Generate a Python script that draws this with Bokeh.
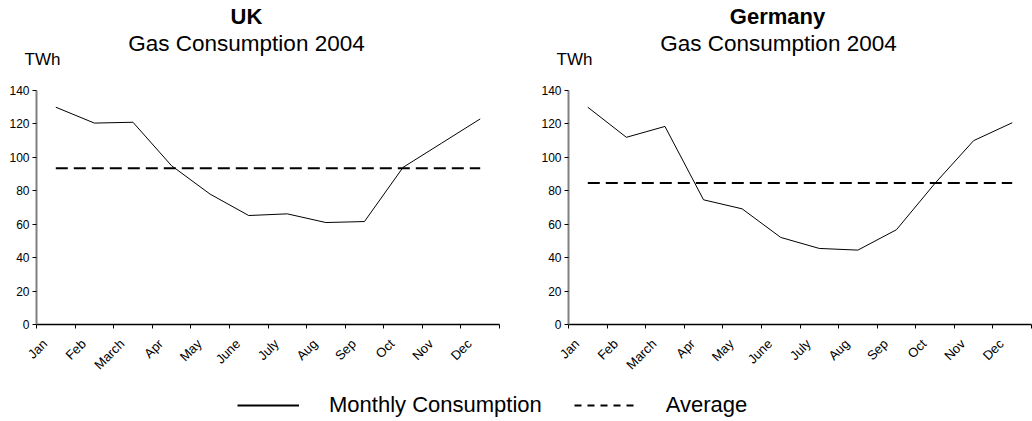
import math
from bokeh.plotting import figure
from bokeh.models import (Range1d, FixedTicker, CustomJSTickFormatter, Label,
                          Legend, LegendItem)
from bokeh.layouts import column, row
from bokeh.embed import file_html
from bokeh.resources import INLINE

# ---------------- data ----------------
months = ["Jan", "Feb", "March", "Apr", "May", "June", "July", "Aug", "Sep",
          "Oct", "Nov", "Dec"]
uk_values = [130, 120.5, 121, 95, 78, 65.2, 66.2, 61, 61.6, 94, 108.5, 123]
uk_average = 93.5
de_values = [130, 112, 118.5, 74.6, 69.2, 52.1, 45.5, 44.5, 56.7, 84.5, 110, 120.7]
de_average = 84.6
y_ticks = [0, 20, 40, 60, 80, 100, 120, 140]
countries = ["UK", "Germany"]
subtitle = "Gas Consumption 2004"
unit_label = "TWh"
series_names = ["Monthly Consumption", "Average"]

FONT = "Liberation Sans"
NAN = float("nan")


def strip(width, height):
    s = figure(width=width, height=height, x_axis_type=None, y_axis_type=None,
               x_range=Range1d(0, 1), y_range=Range1d(0, 1),
               toolbar_location=None, output_backend="svg", min_border=0)
    s.outline_line_color = None
    s.xgrid.visible = False
    s.ygrid.visible = False
    return s


def make_panel(values, avg, width, b_left, b_right):
    p = figure(width=width, height=298,
               x_range=Range1d(0, len(months)), y_range=Range1d(y_ticks[0], y_ticks[-1]),
               toolbar_location=None, output_backend="svg",
               min_border_left=b_left, min_border_right=b_right,
               min_border_top=8, min_border_bottom=56)
    p.outline_line_color = None
    p.xgrid.visible = False
    p.ygrid.visible = False

    x = [i + 0.5 for i in range(len(months))]
    p.line(x, values, line_color="black", line_width=1)
    p.line(x, [avg] * len(x), line_color="black", line_width=2, line_dash="12 6")

    ya = p.yaxis[0]
    ya.ticker = FixedTicker(ticks=y_ticks, minor_ticks=[])
    ya.axis_line_color = "#808080"
    ya.axis_line_width = 2
    ya.major_tick_out = 4
    ya.major_tick_in = 0
    ya.major_tick_line_color = "black"
    ya.minor_tick_line_color = None
    ya.major_label_text_font = FONT
    ya.major_label_text_font_size = "12px"
    ya.major_label_text_color = "black"
    ya.major_label_standoff = 3

    # x axis: labels near category centres, tick marks on category boundaries
    xa = p.xaxis[0]
    label_pos = [i + 0.22 for i in range(len(months))]
    xa.ticker = FixedTicker(ticks=label_pos, minor_ticks=list(range(len(months) + 1)))
    xa.formatter = CustomJSTickFormatter(args=dict(labels=months),
                                         code="return labels[Math.floor(tick)] || ''")
    xa.axis_line_color = "black"
    xa.axis_line_width = 1.5
    xa.major_tick_line_color = None
    xa.major_tick_out = 0
    xa.major_tick_in = 0
    xa.minor_tick_line_color = "black"
    xa.minor_tick_out = 4
    xa.minor_tick_in = 0
    xa.major_label_orientation = math.pi / 4
    xa.major_label_text_font = FONT
    xa.major_label_text_font_size = "13px"
    xa.major_label_text_color = "black"
    xa.major_label_standoff = 13
    return p


# header with titles
header = strip(1032, 82)
for cx_title, cx_sub, cx_unit, name in [(246, 246, 42, countries[0]),
                                         (777, 778, 574, countries[1])]:
    header.add_layout(Label(x=cx_title, y=66.5, x_units="screen", y_units="screen",
                            text=name, text_font=FONT, text_font_style="bold",
                            text_font_size="22px", text_align="center",
                            text_baseline="alphabetic", text_color="black"))
    header.add_layout(Label(x=cx_sub, y=39, x_units="screen", y_units="screen",
                            text=subtitle, text_font=FONT, text_font_size="22.5px",
                            text_align="center", text_baseline="alphabetic",
                            text_color="black"))
    header.add_layout(Label(x=cx_unit, y=23.5, x_units="screen", y_units="screen",
                            text=unit_label, text_font=FONT, text_font_size="17px",
                            text_align="center", text_baseline="alphabetic",
                            text_color="black"))

p1 = make_panel(uk_values, uk_average, 516, 36, 17)
p2 = make_panel(de_values, de_average, 516, 52, 1)

# legend strip (renderers hold no visible data; they only supply the swatch styles)
p3 = strip(1032, 41)
r1 = p3.line([NAN], [NAN], line_color="black", line_width=2)
r2 = p3.line([NAN], [NAN], line_color="black", line_width=2, line_dash="7 6")
legend = Legend(items=[LegendItem(label=series_names[0], renderers=[r1]),
                       LegendItem(label=series_names[1], renderers=[r2])],
                orientation="horizontal", location=(237, 3),
                glyph_width=62, glyph_height=20, label_standoff=30, spacing=32,
                padding=0, margin=0, border_line_color=None,
                background_fill_alpha=0,
                label_text_font=FONT, label_text_font_size="22px",
                label_text_color="black")
p3.add_layout(legend)

layout = column(header, row(p1, p2), p3)

open("out.html", "w").write(file_html(layout, INLINE))
